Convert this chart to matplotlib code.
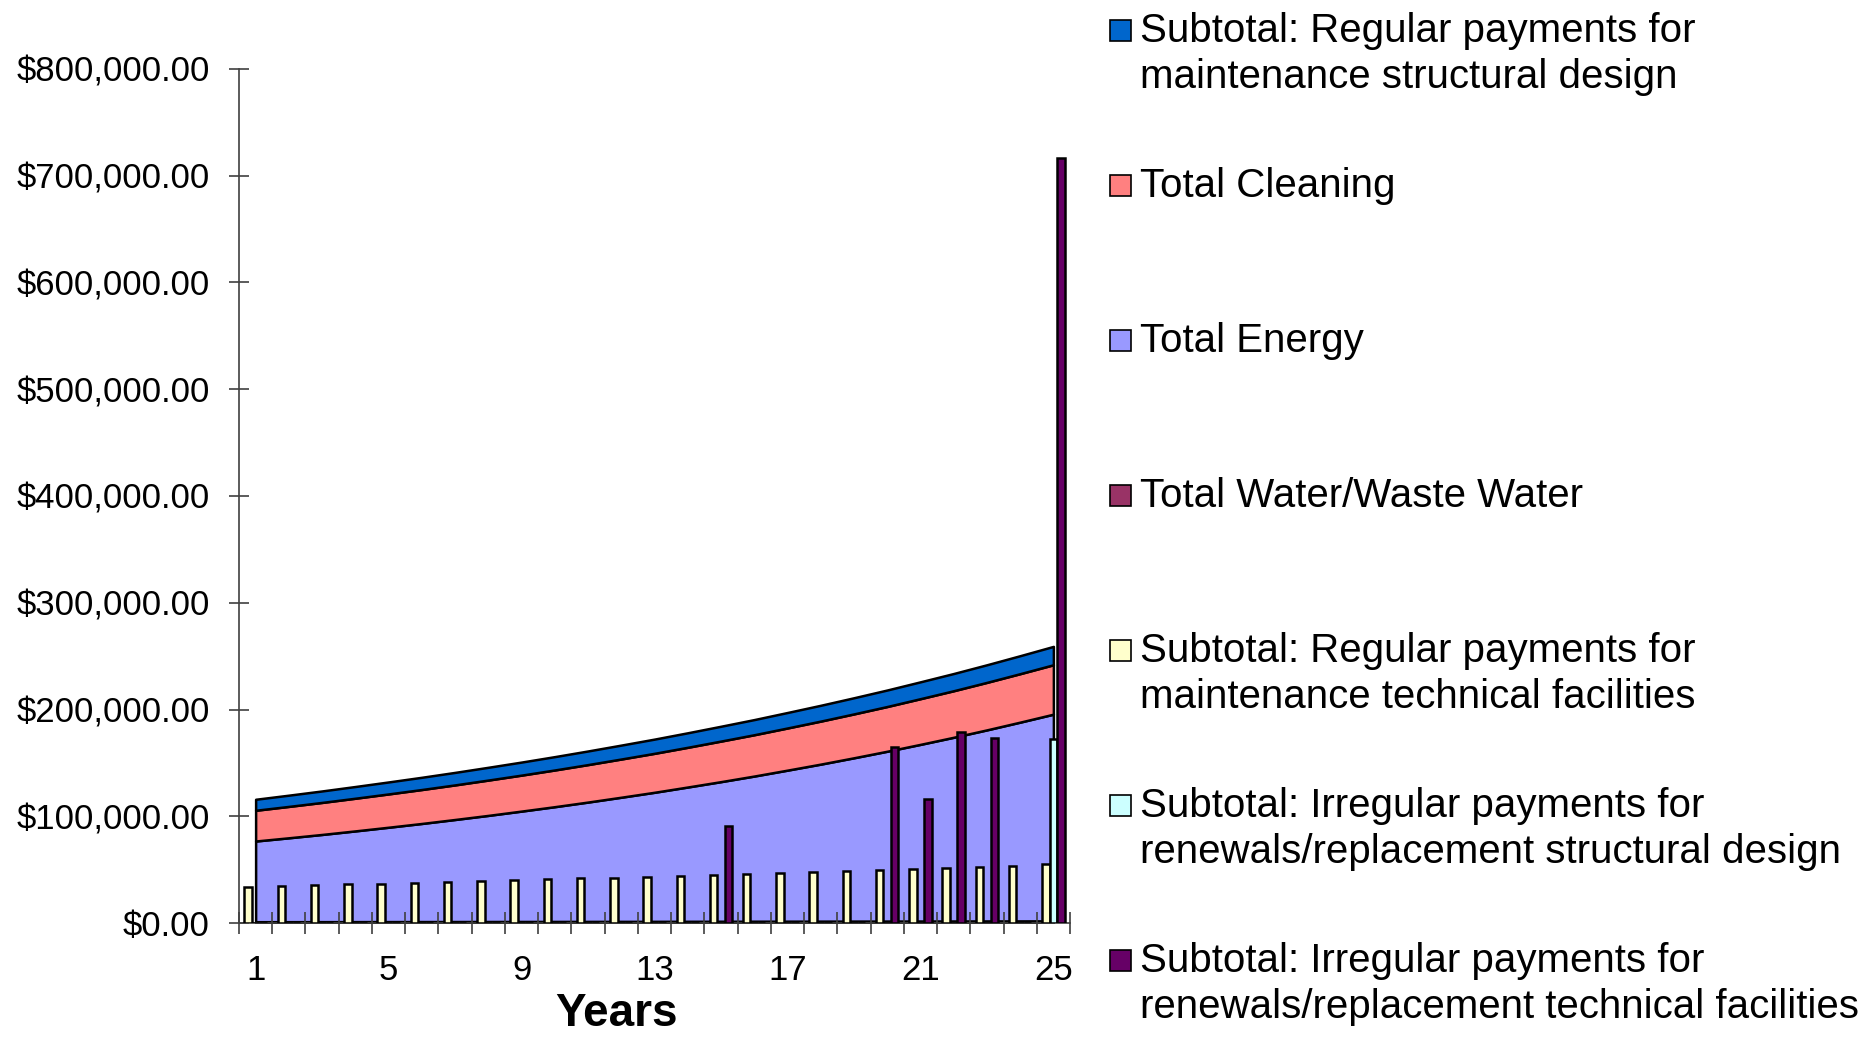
import matplotlib
matplotlib.use("Agg")
import matplotlib.pyplot as plt
import numpy as np
from matplotlib.patches import Rectangle
from matplotlib.ticker import FuncFormatter

plt.rcParams["font.family"] = ["Liberation Sans", "DejaVu Sans"]

years = list(range(1, 26))
year_labels = [1, 5, 9, 13, 17, 21, 25]

# stacked areas (bottom to top)
water = [1200, 1230, 1260, 1290, 1320, 1350, 1380, 1410, 1440, 1470, 1500, 1530, 1560,
         1600, 1630, 1670, 1700, 1740, 1780, 1810, 1850, 1890, 1930, 1970, 2010]
energy = [75600, 78600, 81700, 85000, 88400, 91900, 95600, 99400, 103400, 107500, 111800,
          116300, 120900, 125800, 130800, 136000, 141500, 147100, 153000, 159100, 165500,
          172100, 179000, 186200, 193600]
cleaning = [28800, 29400, 30000, 30600, 31200, 31800, 32400, 33100, 33700, 34400, 35100,
            35800, 36500, 37200, 38000, 38700, 39500, 40300, 41100, 41900, 42800, 43600,
            44500, 45400, 46300]
structural = [10300, 10520, 10750, 10980, 11220, 11460, 11710, 11960, 12220, 12490, 12760,
              13030, 13310, 13600, 13890, 14190, 14500, 14810, 15130, 15460, 15790, 16130,
              16480, 16840, 17200]

# clustered bars
reg_technical = [33700, 34600, 35200, 36200, 36800, 37800, 38700, 39400, 40300, 41200, 41900,
                 42500, 43400, 44300, 44600, 45600, 46500, 47400, 48700, 49600, 50600, 51900,
                 52800, 53700, 54900]
irr_structural = [0] * 24 + [172000]
irr_technical = [0, 0, 0, 0, 0, 0, 0, 0, 0, 0, 0, 0, 0, 0, 91000, 0, 0, 0, 0, 164700,
                 116200, 178800, 173400, 0, 717000]

labels = [
    "Subtotal: Regular payments for\nmaintenance structural design",
    "Total Cleaning",
    "Total Energy",
    "Total Water/Waste Water",
    "Subtotal: Regular payments for\nmaintenance technical facilities",
    "Subtotal: Irregular payments for\nrenewals/replacement structural design",
    "Subtotal: Irregular payments for\nrenewals/replacement technical facilities",
]
colors = ["#0066CC", "#FF8080", "#9999FF", "#993366", "#FFFFCC", "#CCFFFF", "#660066"]

W, H = 1864, 1038
fig = plt.figure(figsize=(W / 100, H / 100), dpi=100)
ax = fig.add_axes([239 / W, 1 - 923 / H, (1070 - 239) / W, (923 - 69) / H])

x = np.array(years)
ax.stackplot(x, water, energy, cleaning, structural,
             colors=[colors[3], colors[2], colors[1], colors[0]],
             edgecolor="black", linewidth=1.8, zorder=1)

bw = 0.225
for off, vals, c in [(-bw, reg_technical, colors[4]), (0, irr_structural, colors[5]),
                     (bw, irr_technical, colors[6])]:
    ax.bar(x + off, vals, width=bw, color=c, edgecolor="black", linewidth=1.8, zorder=3)

ax.set_xlim(0.5, 25.5)
ax.set_ylim(0, 800000)

for s in ["top", "right"]:
    ax.spines[s].set_visible(False)
for s in ["left", "bottom"]:
    ax.spines[s].set_color("#404040")
    ax.spines[s].set_linewidth(1.2)

ax.set_xticks(year_labels, [str(v) for v in year_labels])
ax.set_xticks(np.arange(0.5, 26, 1), minor=True)
ax.tick_params(axis="x", which="major", length=0, pad=22, labelsize=25)
ax.tick_params(axis="x", which="minor", direction="inout", length=15.8, width=1.2,
               color="#404040")

ax.set_yticks(np.arange(0, 800001, 100000))
ax.yaxis.set_major_formatter(FuncFormatter(lambda v, p: f"${v:,.2f}"))
ax.tick_params(axis="y", direction="inout", length=14.4, width=1.2, color="#404040",
               pad=14, labelsize=25)

fig.text(616 / W, 1 - 1026 / H, "Years", ha="center", va="baseline",
         fontsize=33, fontweight="bold")

# legend, drawn by hand so first lines sit on a regular grid
for i, (lab, c) in enumerate(zip(labels, colors)):
    base = 42 + i * 155
    fig.patches.append(Rectangle((1110 / W, 1 - (base - 1) / H), 21 / W, 21 / H,
                                 transform=fig.transFigure, facecolor=c,
                                 edgecolor="black", linewidth=1.2))
    for j, line in enumerate(lab.split("\n")):
        fig.text(1140 / W, 1 - (base + j * 46) / H, line, ha="left", va="baseline",
                 fontsize=29)

fig.savefig("out.png", dpi=100)
